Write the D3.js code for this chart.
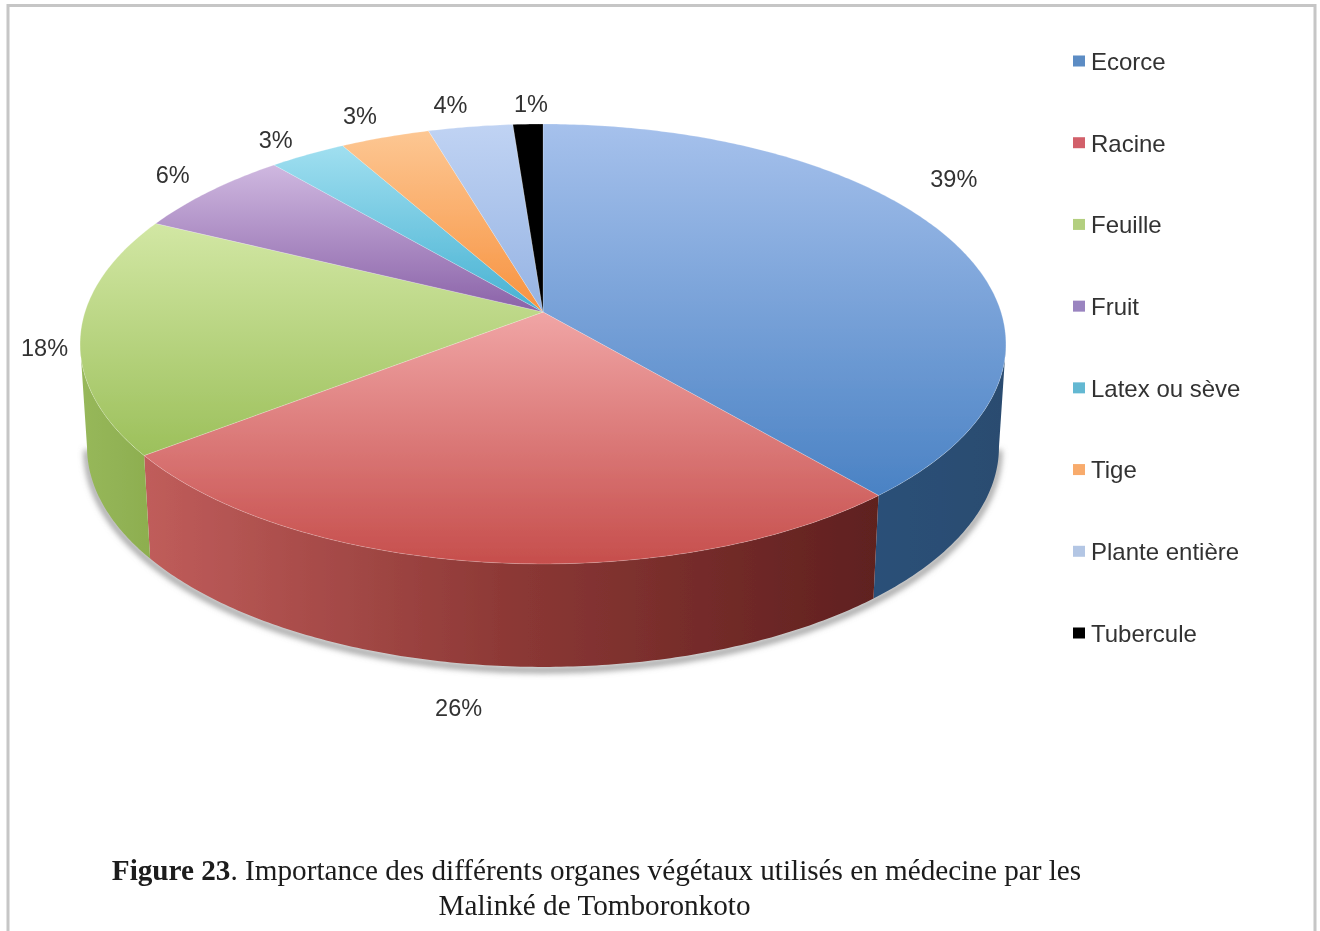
<!DOCTYPE html>
<html>
<head>
<meta charset="utf-8">
<script src="https://cdn.jsdelivr.net/npm/d3@7"></script>
<style>
  html, body { margin: 0; padding: 0; background: #fff; overflow: hidden; }
  svg { display: block; }
</style>
</head>
<body>
<svg id="chart" width="1320" height="931"></svg>
<script>
var organs = ["Ecorce", "Racine", "Feuille", "Fruit", "Latex ou sève", "Tige", "Plante entière", "Tubercule"];
var shares = [38.7, 25.9, 17.6, 6.5, 3.1, 3.6, 3.4, 1.2];
var shareLabels = ["39%", "26%", "18%", "6%", "3%", "3%", "4%", "1%"];

var topLight = ["#a6c1ec", "#f0a5a5", "#d2e7a4", "#cfb8e0", "#a0dff0", "#fdc793", "#c0d3f3", "#000000"];
var topDark = ["#4a82c4", "#c64e4c", "#9cc05b", "#8a62a8", "#46b1d2", "#f7923f", "#95b3e3", "#000000"];
var wallStops = [
  ["#2c5078", "#2a4c70"],
  ["#c05d5b", "#8c3835", "#5f201f"],
  ["#97b85b", "#8dae4f"]
];
var swatchColors = ["#5b8cc4", "#d2616a", "#b3cf7f", "#9a84c0", "#63b8d2", "#f8ab6c", "#b3c6e4", "#000000"];

// label shift from the rim point at the middle of each slice
var labelShift = [[2, -62], [-29, 145], [-36, 14], [-37, -17], [-32, -15], [-25, -21], [-20, -22], [3, -20]];

var svg = d3.select("#chart");
var defs = svg.append("defs");

defs.append("filter").attr("id", "soft")
  .append("feGaussianBlur").attr("stdDeviation", 0.7);
defs.append("filter").attr("id", "shadow")
  .attr("x", "-5%").attr("y", "-5%").attr("width", "110%").attr("height", "110%")
  .append("feGaussianBlur").attr("stdDeviation", 3);

var root = svg.append("g").attr("filter", "url(#soft)");

// frame of the scanned figure
root.append("path")
  .attr("d", "M8,931V5.5H1315V931")
  .style("fill", "none")
  .style("stroke", "#c6c6c6")
  .style("stroke-width", 3);

// perspective disc: back rim is pressed, front rim stretched
var apexX = 543, apexY = 312, radiusX = 458, radiusY = 215.3, tilt = 0.1453, thickness = 103, baseScale = 0.985;

function project(angle, isBase) {
  var u = Math.sin(angle), v = Math.cos(angle);
  var s = 1 / (1 + tilt * v);
  return [apexX + radiusX * u * s * (isBase ? baseScale : 1), apexY - radiusY * v * s + (isBase ? thickness : 0)];
}

function rim(start, end, isBase) {
  var n = Math.max(2, Math.ceil((end - start) * 90));
  return d3.range(n + 1).map(i => project(start + (end - start) * i / n, isBase));
}

var line = d3.line();
var pie = d3.pie().sort(null).value(d => d)(shares);

var sideStart = Math.acos(-tilt), sideEnd = 2 * Math.PI - sideStart;

root.append("path")
  .attr("d", line(rim(sideStart, sideEnd, true)))
  .attr("transform", "translate(0, 3)")
  .attr("filter", "url(#shadow)")
  .style("fill", "none")
  .style("stroke", "#888")
  .style("stroke-width", 5);

// side walls
pie.forEach((d, i) => {
  var from = Math.max(d.startAngle, sideStart), to = Math.min(d.endAngle, sideEnd);
  if (from >= to) return;

  var grad = defs.append("linearGradient").attr("id", "wall" + i);
  wallStops[i].forEach((c, k) => {
    grad.append("stop").attr("offset", k / (wallStops[i].length - 1)).attr("stop-color", c);
  });

  root.append("path")
    .attr("d", line(rim(from, to, false).concat(rim(from, to, true).reverse())) + "Z")
    .style("fill", `url(#wall${i})`);
});

// top slices
pie.forEach((d, i) => {
  var grad = defs.append("linearGradient").attr("id", "top" + i)
    .attr("x1", 0).attr("y1", 0).attr("x2", 0).attr("y2", 1);
  grad.append("stop").attr("offset", 0).attr("stop-color", topLight[i]);
  grad.append("stop").attr("offset", 1).attr("stop-color", topDark[i]);

  root.append("path")
    .attr("d", line([[apexX, apexY]].concat(rim(d.startAngle, d.endAngle, false))) + "Z")
    .style("fill", `url(#top${i})`)
    .style("stroke", "#fff")
    .style("stroke-opacity", 0.2)
    .style("stroke-width", 1);
});

// percent labels
pie.forEach((d, i) => {
  var p = project((d.startAngle + d.endAngle) / 2, false);
  root.append("text")
    .text(shareLabels[i])
    .attr("x", p[0] + labelShift[i][0])
    .attr("y", p[1] + labelShift[i][1])
    .attr("dy", "0.35em")
    .style("fill", "#333")
    .style("font-size", "23.5px")
    .style("font-family", "'Liberation Sans', Arial, sans-serif")
    .style("text-anchor", "middle");
});

// legend
var legendY = d3.scalePoint().domain(organs).range([61.5, 633.5]);

organs.forEach((name, i) => {
  root.append("rect")
    .attr("x", 1073)
    .attr("y", legendY(name) - 6)
    .attr("width", 12)
    .attr("height", 11)
    .style("fill", swatchColors[i]);
  root.append("text")
    .text(name)
    .attr("x", 1091)
    .attr("y", legendY(name))
    .attr("dy", "0.35em")
    .style("fill", "#333")
    .style("font-size", "24px")
    .style("font-family", "'Liberation Sans', Arial, sans-serif");
});

// caption
var caption = root.append("text")
  .attr("x", 596.5)
  .attr("y", 880)
  .style("fill", "#1a1a1a")
  .style("font-size", "29.2px")
  .style("font-family", "'Liberation Serif', 'Times New Roman', serif")
  .style("text-anchor", "middle");
caption.append("tspan").text("Figure 23").style("font-weight", "bold");
caption.append("tspan").text(". Importance des différents organes végétaux utilisés en médecine par les");

root.append("text")
  .text("Malinké de Tomboronkoto")
  .attr("x", 594.5)
  .attr("y", 915)
  .style("fill", "#1a1a1a")
  .style("font-size", "29.2px")
  .style("font-family", "'Liberation Serif', 'Times New Roman', serif")
  .style("text-anchor", "middle");
</script>
</body>
</html>
